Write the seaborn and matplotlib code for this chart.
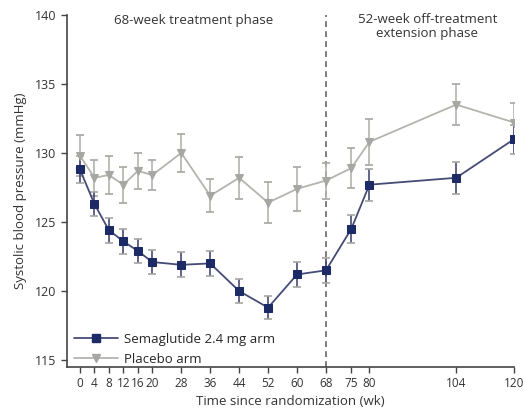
import numpy as np
import pandas as pd
import matplotlib
matplotlib.use("Agg")
import matplotlib.pyplot as plt
from matplotlib.lines import Line2D
import seaborn as sns

# Weeks since randomization
weeks = [0, 4, 8, 12, 16, 20, 28, 36, 44, 52, 60, 68, 75, 80, 104, 120]

# Mean systolic blood pressure (mmHg) and error half-widths per arm
sema_mean = [128.8, 126.3, 124.4, 123.6, 122.9, 122.1, 121.9, 122.0, 120.0, 118.8,
             121.2, 121.5, 124.5, 127.7, 128.2, 131.0]
sema_err = [1.0, 0.9, 0.9, 0.9, 0.9, 0.9, 0.9, 0.9, 0.85, 0.85,
            0.9, 0.9, 1.0, 1.15, 1.15, 1.05]
plac_mean = [129.8, 128.2, 128.4, 127.7, 128.7, 128.4, 130.0, 126.9, 128.2, 126.4,
             127.4, 128.0, 128.9, 130.8, 133.5, 132.2]
plac_err = [1.5, 1.3, 1.4, 1.3, 1.3, 1.1, 1.4, 1.2, 1.5, 1.5,
            1.6, 1.3, 1.45, 1.65, 1.5, 1.4]

arm_names = ["Semaglutide 2.4 mg arm", "Placebo arm"]
x_ticks = weeks
y_ticks = [115, 120, 125, 130, 135, 140]

sns.set_style("ticks")
plt.rcParams["font.family"] = ["Open Sans", "DejaVu Sans"]

df = pd.DataFrame({
    "week": weeks * 2,
    "sbp": sema_mean + plac_mean,
    "err": sema_err + plac_err,
    "arm": [arm_names[0]] * len(weeks) + [arm_names[1]] * len(weeks),
})

navy = "#1c2a66"
navy_line = "#454b76"
grey = "#a6a6a2"
grey_line = "#b3b3af"
text_col = "#333333"

fig = plt.figure(figsize=(5.23, 4.11), dpi=100)
ax = fig.add_axes([0.128, 0.107, 0.855, 0.857])

# error bars first so the markers sit on top
for name, ecol in [(arm_names[1], grey_line), (arm_names[0], navy_line)]:
    sub = df[df["arm"] == name]
    ax.errorbar(sub["week"], sub["sbp"], yerr=sub["err"], fmt="none",
                ecolor=ecol, elinewidth=1.2, capsize=3.3, capthick=1.2, zorder=2)

sns.lineplot(data=df, x="week", y="sbp", hue="arm", style="arm",
             hue_order=arm_names, style_order=arm_names,
             palette={arm_names[0]: navy_line, arm_names[1]: grey_line},
             markers={arm_names[0]: "s", arm_names[1]: "v"},
             dashes=False, linewidth=1.3, ax=ax, zorder=3, legend=False)

# solid marker fills, slightly darker than the connecting lines
for line in ax.get_lines():
    if len(line.get_xdata()) != len(weeks):
        continue
    if line.get_color() == navy_line:
        line.set_markerfacecolor(navy); line.set_markeredgecolor(navy); line.set_markersize(6)
    else:
        line.set_markerfacecolor(grey); line.set_markeredgecolor(grey); line.set_markersize(5.5)

ax.axvline(68, color="#666666", linestyle=(0, (3.5, 2.5)), linewidth=1.2, zorder=1)

ax.set_xlim(-3.6, 120)
ax.set_ylim(114.5, 140)
ax.set_xticks(x_ticks)
ax.set_xticklabels([str(w) for w in x_ticks], fontsize=8.5, color=text_col)
ax.set_yticks(y_ticks)
ax.set_yticklabels([str(v) for v in y_ticks], fontsize=9, color=text_col)
ax.tick_params(axis="both", length=4, width=1, color="#444444", direction="out")
for s in ["left", "bottom"]:
    ax.spines[s].set_color("#444444")
    ax.spines[s].set_linewidth(1.2)
sns.despine(ax=ax)

ax.set_xlabel("Time since randomization (wk)", fontsize=9.5, color=text_col, labelpad=3)
ax.set_ylabel("Systolic blood pressure (mmHg)", fontsize=9.5, color=text_col, labelpad=6)

ax.text(31.5, 140.05, "68-week treatment phase", ha="center", va="top",
        fontsize=9.5, color=text_col)
ax.text(96, 140.1, "52-week off-treatment\nextension phase", ha="center", va="top",
        fontsize=9.5, color=text_col, linespacing=1.1)

handles = [
    Line2D([], [], color=navy_line, lw=1.3, marker="s", markersize=6,
           markerfacecolor=navy, markeredgecolor=navy),
    Line2D([], [], color=grey_line, lw=1.3, marker="v", markersize=5.5,
           markerfacecolor=grey, markeredgecolor=grey),
]
ax.legend(handles, arm_names, loc="lower left", frameon=False, fontsize=9.5,
          handlelength=3.4, handletextpad=0.4, labelspacing=0.5,
          borderaxespad=0.1, bbox_to_anchor=(0.0, -0.015))

fig.savefig("out.png", dpi=100)
